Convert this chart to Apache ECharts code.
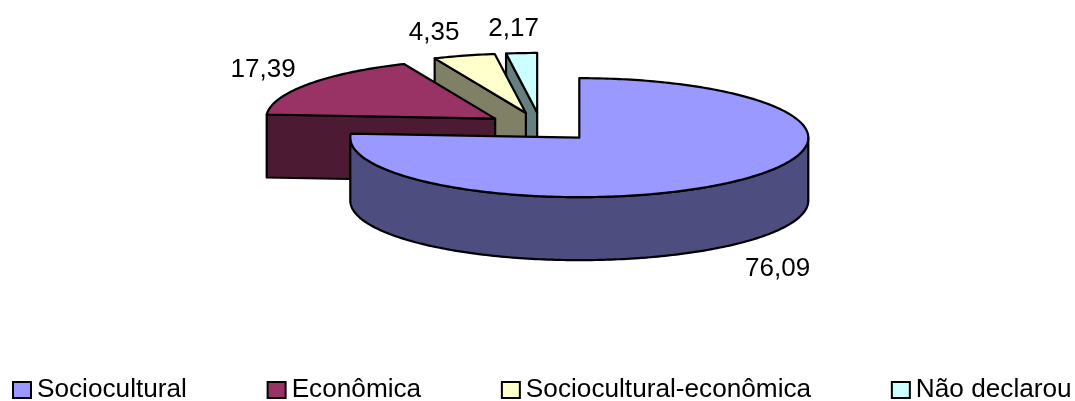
<!DOCTYPE html>
<html>
<head>
<meta charset="utf-8">
<style>html,body{margin:0;padding:0;background:#fff}#chart{width:1075px;height:401px}</style>
<script src="https://cdn.jsdelivr.net/npm/echarts@6/dist/echarts.min.js"></script>
</head>
<body>
<div id="chart"></div>
<script>
// Slices of the exploded pie, clockwise from twelve o'clock
const categories = ['Sociocultural', 'Econômica', 'Sociocultural-econômica', 'Não declarou'];
const shares = [76.09, 17.39, 4.35, 2.17];
const shareLabels = ['76,09', '17,39', '4,35', '2,17'];
const topColors = ['#9999FF', '#993366', '#FFFFCC', '#CCFFFF'];
const sideColors = ['#4D4D80', '#4D1A33', '#808066', '#668080'];

// Tilted-disc geometry
const CX = 541, CY = 127, RX = 229, RY = 59.5, DEPTH = 63, EXPLODE = 0.245;
const FONT = '"Liberation Sans", Arial, sans-serif';
const LABEL_SIZE = 26;
// Distance of each label from its slice's rim point
const labelNudges = [[42, 25], [-45, -14], [-30, -23], [-8, -24]];

const total = shares.reduce((a, b) => a + b, 0);
const rad = d => d * Math.PI / 180;

function arc(cx, cy, from, to) {
  const pts = [];
  const n = Math.max(1, Math.ceil(to - from));
  for (let i = 0; i <= n; i++) {
    const t = rad(from + (to - from) * i / n);
    pts.push([cx + RX * Math.sin(t), cy - RY * Math.cos(t)]);
  }
  return pts;
}

const lineStyle = fill => ({ fill, stroke: '#000', lineWidth: 2.2, lineJoin: 'round' });

function cutFace(cx, cy, angle, fill) {
  const rim = arc(cx, cy, angle, angle)[0];
  return {
    type: 'polygon',
    shape: { points: [[cx, cy], rim, [rim[0], rim[1] + DEPTH], [cx, cy + DEPTH]] },
    style: lineStyle(fill)
  };
}

function drawSlice(index, api) {
  const before = shares.slice(0, index).reduce((a, b) => a + b, 0);
  const start = before / total * 360;
  const end = start + api.value(0) / total * 360;
  const mid = (start + end) / 2;
  const cx = CX + EXPLODE * RX * Math.sin(rad(mid));
  const cy = CY - EXPLODE * RY * Math.cos(rad(mid));
  const children = [];

  // Cut faces turned towards the viewer
  if (Math.sin(rad(start)) < -1e-6) children.push(cutFace(cx, cy, start, sideColors[index]));
  if (Math.sin(rad(end)) > 1e-6) children.push(cutFace(cx, cy, end, sideColors[index]));

  // Outer wall along the front half of the rim
  const wallFrom = Math.max(start, 90), wallTo = Math.min(end, 270);
  if (wallTo > wallFrom) {
    const upper = arc(cx, cy, wallFrom, wallTo);
    const lower = upper.map(p => [p[0], p[1] + DEPTH]).reverse();
    children.push({ type: 'polygon', shape: { points: upper.concat(lower) }, style: lineStyle(sideColors[index]) });
  }

  // Top surface
  children.push({
    type: 'polygon',
    shape: { points: [[cx, cy]].concat(arc(cx, cy, start, end)) },
    style: lineStyle(topColors[index])
  });

  // Value label beside the rim
  const rimPoint = arc(cx, cy, mid, mid)[0];
  const wallDrop = Math.cos(rad(mid)) < 0 ? DEPTH : 0;
  children.push({
    type: 'text',
    style: {
      x: rimPoint[0] + labelNudges[index][0],
      y: rimPoint[1] + wallDrop + labelNudges[index][1],
      text: shareLabels[index],
      fill: '#000',
      font: LABEL_SIZE + 'px ' + FONT,
      align: 'center',
      verticalAlign: 'middle'
    }
  });
  return { type: 'group', children };
}

// Painted back to front so nearer slices overlap farther ones
const paintOrder = [3, 2, 1, 0];

const chart = echarts.init(document.getElementById('chart'), null, { renderer: 'canvas' });
chart.setOption({
  animation: false,
  backgroundColor: '#fff',
  legend: {
    left: 12,
    top: 377,
    orient: 'horizontal',
    itemWidth: 18,
    itemHeight: 16,
    itemGap: 79.7,
    padding: 0,
    selectedMode: false,
    textStyle: { fontFamily: FONT, fontSize: 26.2, color: '#000', padding: [0, 0, 0, 1] },
    data: categories.map((name, i) => ({
      name,
      icon: 'rect',
      itemStyle: { color: topColors[i], borderColor: '#000', borderWidth: 2 }
    }))
  },
  series: paintOrder.map(i => ({
    type: 'custom',
    name: categories[i],
    coordinateSystem: 'none',
    silent: true,
    z: 3 - i,
    itemStyle: { color: topColors[i] },
    data: [[shares[i]]],
    renderItem: (params, api) => drawSlice(i, api)
  }))
});
</script>
</body>
</html>
